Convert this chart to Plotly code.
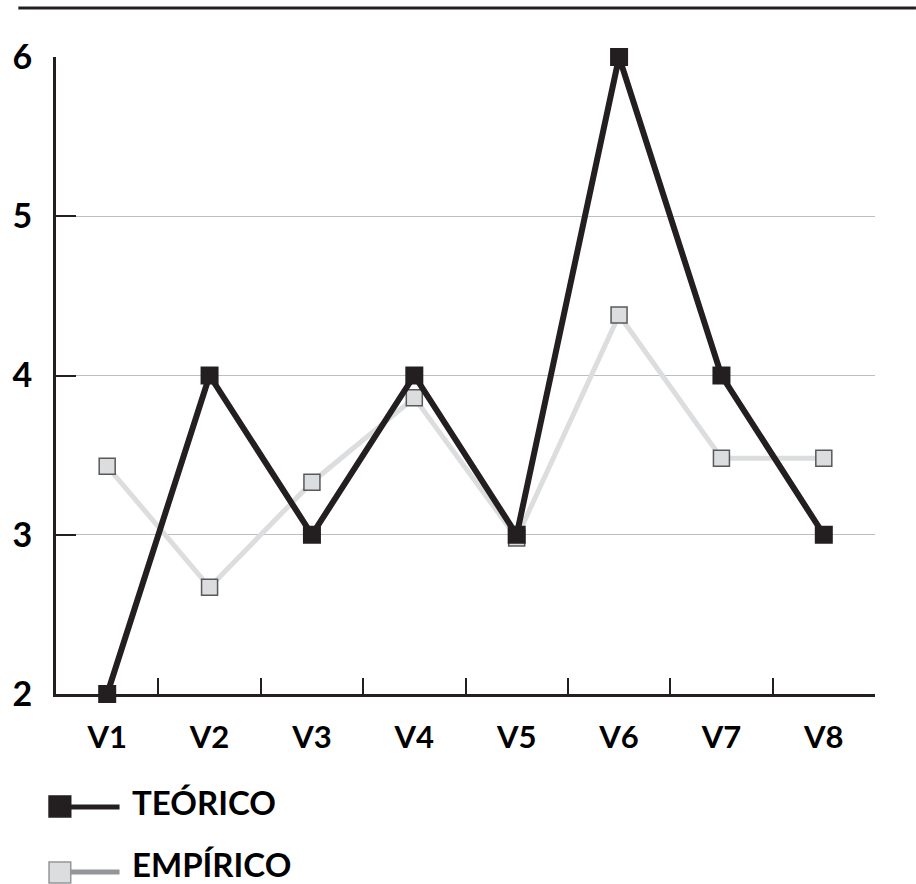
import plotly.graph_objects as go

categories = ["V1", "V2", "V3", "V4", "V5", "V6", "V7", "V8"]
teorico = [2, 4, 3, 4, 3, 6, 4, 3]
empirico = [3.43, 2.67, 3.33, 3.86, 2.98, 4.38, 3.48, 3.48]
y_ticks = [2, 3, 4, 5, 6]

DARK = "#231f20"
LIGHT = "#dcdddf"
FONT = "Lato"

fig = go.Figure()
fig.add_trace(go.Scatter(
    x=categories, y=empirico, mode="lines+markers", name="EMPÍRICO",
    line=dict(color=LIGHT, width=5),
    marker=dict(symbol="square", size=16, color=LIGHT, line=dict(color="#58595b", width=1.5)),
    cliponaxis=False, showlegend=False))
fig.add_trace(go.Scatter(
    x=categories, y=teorico, mode="lines+markers", name="TEÓRICO",
    line=dict(color=DARK, width=6),
    marker=dict(symbol="square", size=18, color=DARK),
    cliponaxis=False, showlegend=False))

# top rule
fig.add_shape(type="line", xref="paper", yref="paper", x0=-0.046, x1=1.05, y0=1.077, y1=1.077,
              line=dict(color=DARK, width=3))

# custom legend
legend_items = [("TEÓRICO", DARK, DARK, DARK, -0.160, -0.193, -0.1774, -0.170),
                ("EMPÍRICO", LIGHT, "#939598", "#939598", -0.2637, -0.2967, -0.2794, -0.2670)]
for name, fill, edge, lcol, ytop, ybot, yline, ytext in legend_items:
    fig.add_shape(type="line", xref="paper", yref="paper", x0=0.018, x1=0.0776, y0=yline, y1=yline,
                  line=dict(color=lcol, width=5))
    fig.add_shape(type="rect", xref="paper", yref="paper", x0=-0.0085, x1=0.018, y0=ybot, y1=ytop,
                  fillcolor=fill, line=dict(color=edge, width=1.5))
    fig.add_annotation(text=name, xref="paper", yref="paper", x=0.0909, y=ytext,
                       xanchor="left", yanchor="middle", showarrow=False,
                       font=dict(family=FONT, size=33, color="black", weight="bold"))

fig.update_layout(
    width=916, height=884,
    margin=dict(l=50, r=41, t=57, b=190),
    plot_bgcolor="white", paper_bgcolor="white",
    font=dict(family=FONT, color="black", weight="bold"),
    xaxis=dict(type="category", categoryorder="array", categoryarray=categories,
               range=[-0.5, 7.5], showgrid=False, showline=True, linecolor=DARK, linewidth=3,
               ticks="inside", tickson="boundaries", ticklen=16, tickwidth=2, tickcolor=DARK,
               tickfont=dict(family=FONT, size=31, color="black", weight="bold"),
               ticklabelstandoff=14, zeroline=False),
    yaxis=dict(range=[2, 6], tickvals=y_ticks, showgrid=True, gridcolor="#bcbec0", gridwidth=1,
               showline=True, linecolor=DARK, linewidth=3, ticks="inside", ticklen=20,
               tickwidth=2, tickcolor=DARK, zeroline=False,
               tickfont=dict(family=FONT, size=34, color="black", weight="bold"),
               ticklabelstandoff=14),
)

fig.write_html("out.html", config={"displayModeBar": False},
               post_script="document.body.style.margin='0';document.body.style.overflow='hidden';")
